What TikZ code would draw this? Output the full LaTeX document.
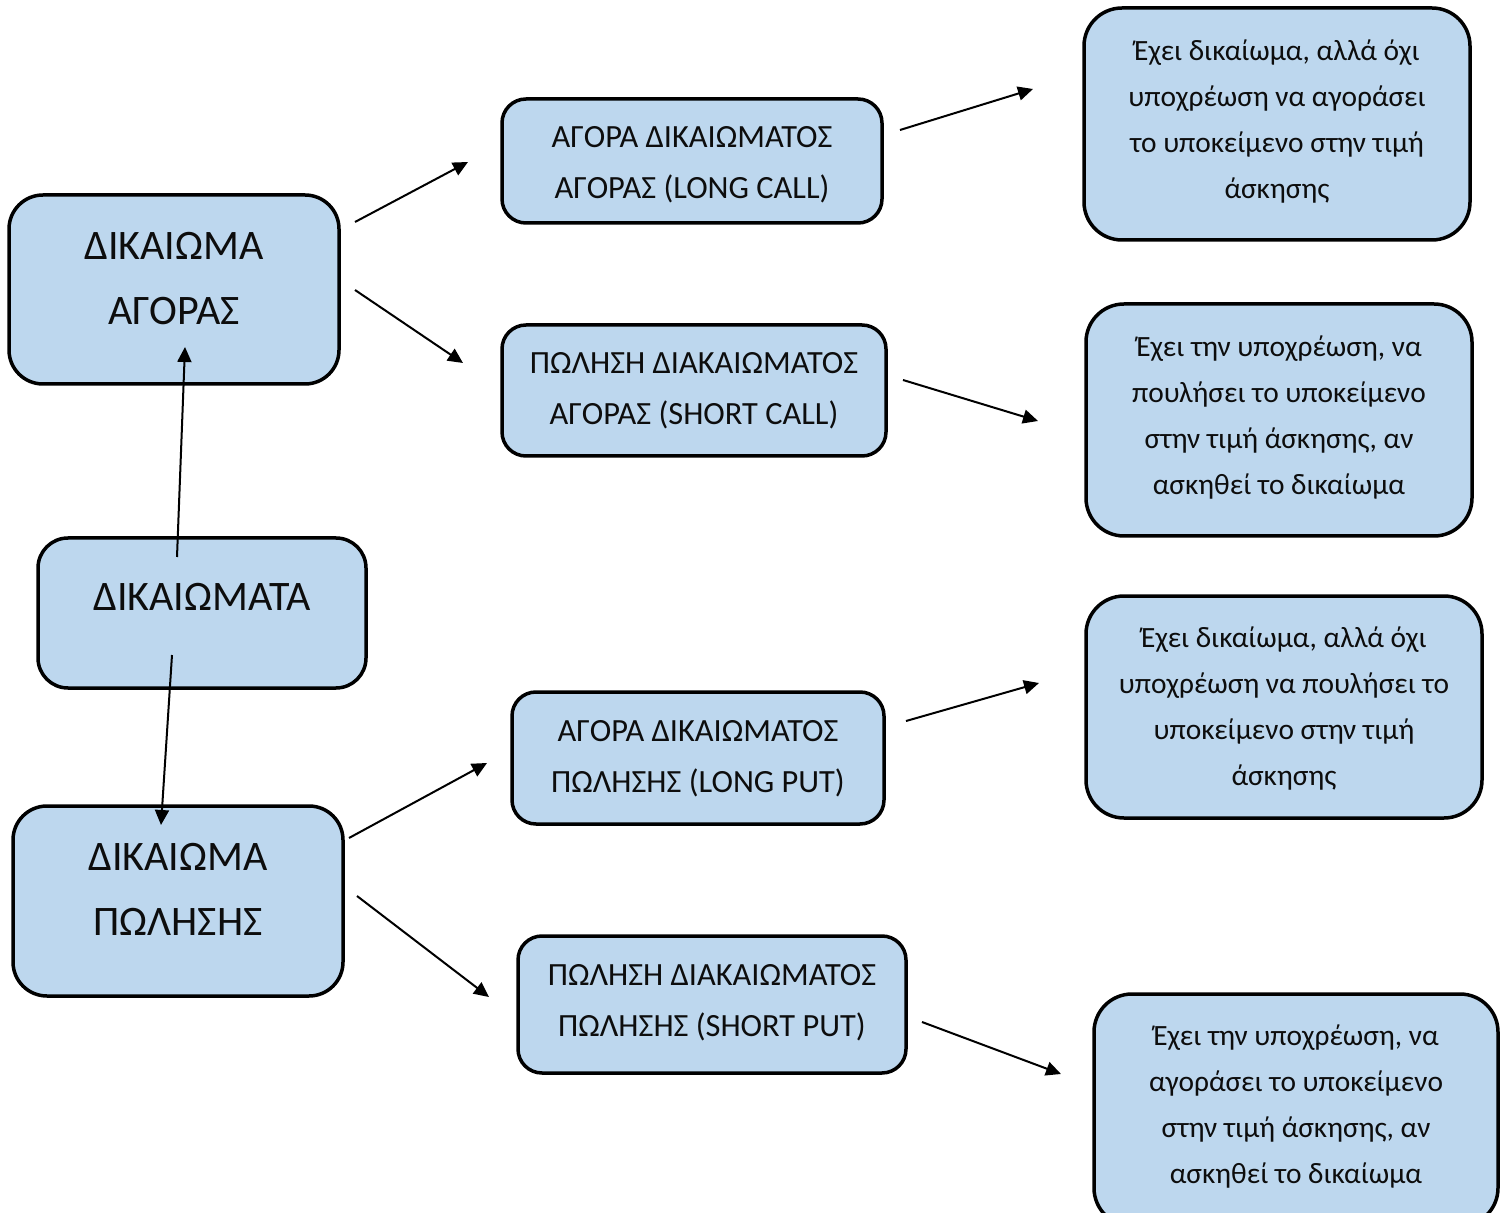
\documentclass[tikz,border=0pt]{standalone}
\usepackage{fontspec}
\setmainfont{Carlito}
\usetikzlibrary{arrows.meta}
\definecolor{boxfill}{HTML}{BDD7EE}
\definecolor{txt}{HTML}{0D0D0D}
\tikzset{
  box/.style={draw=black, fill=boxfill, line width=1.75pt, rounded corners=16pt, inner sep=0pt},
  bigtxt/.style={text=txt, align=center, font=\fontsize{21}{32.5}\selectfont},
  midtxt/.style={text=txt, align=center, font=\fontsize{16.2}{25.5}\selectfont},
  smtxt/.style={text=txt, align=center, font=\fontsize{14.7}{23}\selectfont},
  arr/.style={line width=1pt, -{Triangle[length=7.5pt,width=7pt]}}
}
\begin{document}
\begin{tikzpicture}[x=0.5pt,y=-0.5pt]
\useasboundingbox (0,0) rectangle (1504,1213);
% boxes
\node[box, minimum width=165pt, minimum height=94.5pt, rounded corners=17pt] (b1) at (174,289.5) {};
\node[box, minimum width=164pt, minimum height=75pt, rounded corners=15pt] (b2) at (202,613) {};
\node[box, minimum width=165pt, minimum height=95pt, rounded corners=17pt] (b3) at (178,901) {};
\node[box, minimum width=190pt, minimum height=62pt, rounded corners=12pt] (m1) at (692,161) {};
\node[box, minimum width=192pt, minimum height=65.5pt, rounded corners=12pt] (m2) at (694,390.5) {};
\node[box, minimum width=186pt, minimum height=66pt, rounded corners=12pt] (m3) at (698,758) {};
\node[box, minimum width=194pt, minimum height=68.5pt, rounded corners=12pt] (m4) at (712,1004.5) {};
\node[box, minimum width=193pt, minimum height=116pt, rounded corners=19pt] (r1) at (1277,124) {};
\node[box, minimum width=193pt, minimum height=116pt, rounded corners=19pt] (r2) at (1279,420) {};
\node[box, minimum width=198pt, minimum height=111pt, rounded corners=19pt] (r3) at (1284,707) {};
\node[box, minimum width=202pt, minimum height=116pt, rounded corners=19pt] (r4) at (1296,1110) {};
% texts
\node[bigtxt] (t1) at (174,279) {ΔΙΚΑΙΩΜΑ\\ΑΓΟΡΑΣ};
\node[bigtxt] (t2) at (202,597) {ΔΙΚΑΙΩΜΑΤΑ};
\node[bigtxt] (t3) at (178,889) {ΔΙΚΑΙΩΜΑ\\ΠΩΛΗΣΗΣ};
\node[midtxt] (u1) at (692,165) {ΑΓΟΡΑ ΔΙΚΑΙΩΜΑΤΟΣ\\ΑΓΟΡΑΣ (LONG CALL)};
\node[midtxt] (u2) at (694,391) {ΠΩΛΗΣΗ ΔΙΑΚΑΙΩΜΑΤΟΣ\\ΑΓΟΡΑΣ (SHORT CALL)};
\node[midtxt] (u3) at (698,759) {ΑΓΟΡΑ ΔΙΚΑΙΩΜΑΤΟΣ\\ΠΩΛΗΣΗΣ (LONG PUT)};
\node[midtxt] (u4) at (712,1003) {ΠΩΛΗΣΗ ΔΙΑΚΑΙΩΜΑΤΟΣ\\ΠΩΛΗΣΗΣ (SHORT PUT)};
\node[smtxt] (v1) at (1277,122) {Έχει δικαίωμα, αλλά όχι\\υποχρέωση να αγοράσει\\το υποκείμενο στην τιμή\\άσκησης};
\node[smtxt] (v2) at (1279,418) {Έχει την υποχρέωση, να\\πουλήσει το υποκείμενο\\στην τιμή άσκησης, αν\\ασκηθεί το δικαίωμα};
\node[smtxt] (v3) at (1284,709) {Έχει δικαίωμα, αλλά όχι\\υποχρέωση να πουλήσει το\\υποκείμενο στην τιμή\\άσκησης};
\node[smtxt] (v4) at (1296,1107) {Έχει την υποχρέωση, να\\αγοράσει το υποκείμενο\\στην τιμή άσκησης, αν\\ασκηθεί το δικαίωμα};
% arrow end points
\coordinate (a1s) at (355,222); \coordinate (a1e) at (468,162);
\coordinate (a2s) at (355,290); \coordinate (a2e) at (463,363);
\coordinate (a3s) at (177,557); \coordinate (a3e) at (185,347);
\coordinate (a4s) at (172,655); \coordinate (a4e) at (161,825);
\coordinate (a5s) at (900,130); \coordinate (a5e) at (1033,89);
\coordinate (a6s) at (903,380); \coordinate (a6e) at (1038,421);
\coordinate (a7s) at (349,838); \coordinate (a7e) at (487,763);
\coordinate (a8s) at (357,896); \coordinate (a8e) at (489,997);
\coordinate (a9s) at (906,721); \coordinate (a9e) at (1039,683);
\coordinate (a10s) at (922,1022); \coordinate (a10e) at (1061,1074);
\draw[arr] (a1s) -- (a1e);
\draw[arr] (a2s) -- (a2e);
\draw[arr] (a3s) -- (a3e);
\draw[arr] (a4s) -- (a4e);
\draw[arr] (a5s) -- (a5e);
\draw[arr] (a6s) -- (a6e);
\draw[arr] (a7s) -- (a7e);
\draw[arr] (a8s) -- (a8e);
\draw[arr] (a9s) -- (a9e);
\draw[arr] (a10s) -- (a10e);
\end{tikzpicture}
\end{document}
